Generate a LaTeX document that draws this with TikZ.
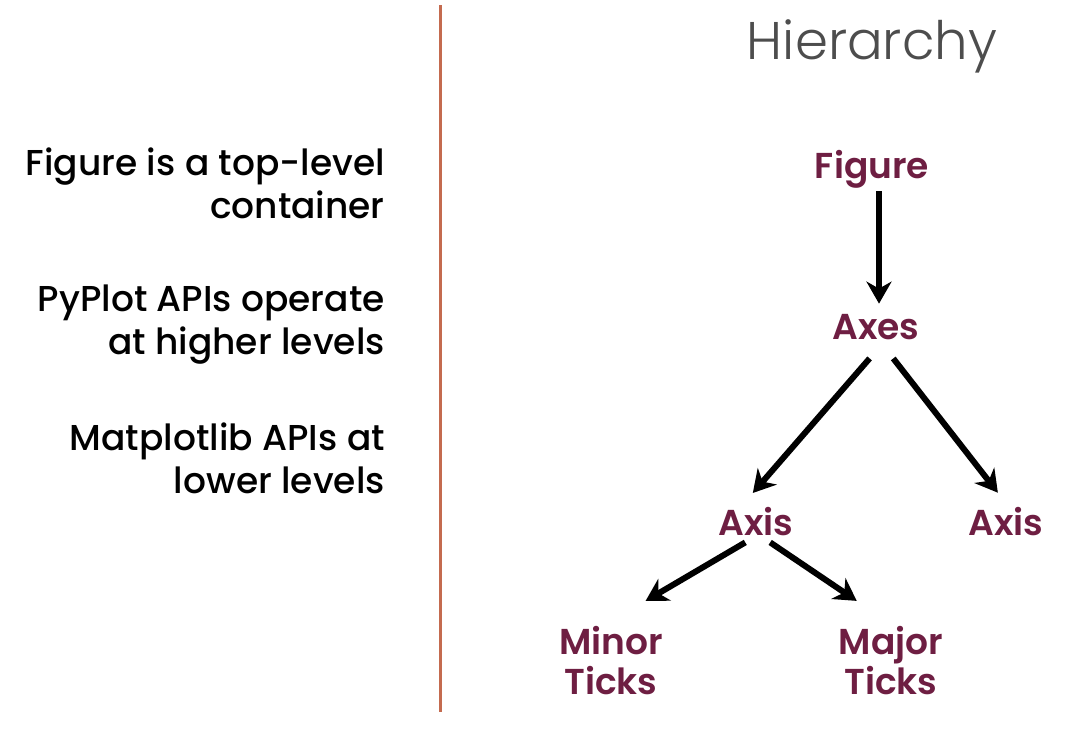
\documentclass[tikz,border=0pt]{standalone}
\usepackage{fontspec}
\setmainfont{Poppins Medium}
\newfontfamily\titlefont{Poppins Light}
\newfontfamily\levelfont{Poppins SemiBold}
\usetikzlibrary{positioning,arrows.meta}
\definecolor{levelred}{HTML}{6E1E42}
\definecolor{titlegray}{HTML}{4D4D4D}
\definecolor{rulebrown}{HTML}{C46B4F}

\begin{document}
\begin{tikzpicture}[
    x=1pt,
    y=-1pt,
    lvl/.style ={
        inner sep=0pt,
        anchor=base,
        text=levelred,
        font=\fontsize{36}{40}\levelfont
    },
    note/.style ={
        inner sep=0pt,
        anchor=east,
        align=right,
        font=\fontsize{36}{43}\selectfont
    },
    arr/.style ={
        line width=6pt,
        -{Stealth[length=22pt,width=25pt,inset=7pt]}
    }
    ]
    \useasboundingbox (0,0) rectangle (1068,731);
    \node[inner sep=0pt,anchor=base,text=titlegray,font=\fontsize{53}{60}\titlefont] (title) at (872,59) {Hierarchy};
    \draw[rulebrown,line width=3pt] (440,5) -- (440,712);

    \foreach \name/ \pos/ \txt in {{fignote/(385,183)/Figure is a top-level\\container},
                                  {pyplotnote/(385,325)/PyPlot APIs operate\\at higher levels},
                                  {mplnote/(385,458)/Matplotlib APIs at\\lower levels}}
        \node[note] (\name) at \pos {\txt};

    \foreach \name/ \pos/ \txt in {{fig/(872,178)/Figure}, {axes/(876,339)/Axes},
                                  {axisl/(756,535)/Axis}, {axisr/(1006,535)/Axis}}
        \node[lvl] (\name) at \pos {\txt};
    \node[lvl,anchor=center,align=center] (minor) at (611,661) {Minor\\Ticks};
    \node[lvl,anchor=center,align=center] (major) at (891,661) {Major\\Ticks};

    \foreach \src/ \sx/ \dst/ \dx/ \sa/ \sb in {
        fig/7/axes/3/3/10, axes/10/axisl/-15/25/18, axes/2.5/axisr/2.7/24/17.6,
        axisl/1/minor/-9/13.6/50.5, axisl/4/major/3.7/12.3/45.8}
        \draw[arr,shorten <=\sa pt,shorten >=\sb pt] ([xshift=\sx pt]\src.south) -- ([xshift=\dx pt]\dst.north);
\end{tikzpicture}
\end{document}
